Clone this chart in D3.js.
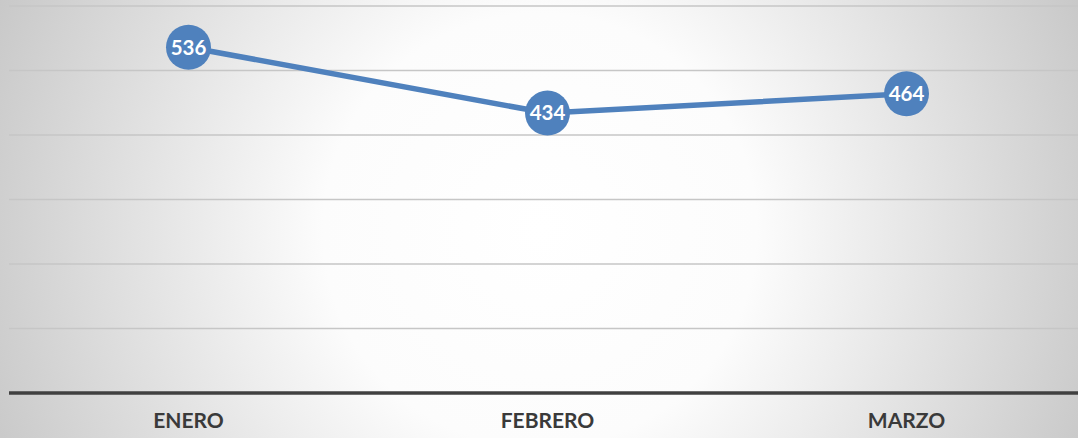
<!DOCTYPE html>
<html>
<head>
<meta charset="utf-8">
<script src="https://cdn.jsdelivr.net/npm/d3@7"></script>
<style>
  body { margin: 0; padding: 0; overflow: hidden; }
  svg { display: block; }
</style>
</head>
<body>
<svg id="canvas"></svg>
<script>
let width = 1078;
let height = 438;

// chart data
let months = ['ENERO', 'FEBRERO', 'MARZO'];
let values = [536, 434, 464];
let gridTicks = [100, 200, 300, 400, 500, 600];

let lineColor = '#4F81BD';

let canvas = d3.select('#canvas')
    .attr('width', width)
    .attr('height', height);

// background: soft radial gradient
let defs = canvas.append('defs');
let grad = defs.append('radialGradient')
    .attr('id', 'bg')
    .attr('gradientUnits', 'userSpaceOnUse')
    .attr('cx', 540).attr('cy', 230).attr('r', 620);
grad.append('stop').attr('offset', '0%').attr('stop-color', '#ffffff');
grad.append('stop').attr('offset', '35%').attr('stop-color', '#fcfcfc');
grad.append('stop').attr('offset', '100%').attr('stop-color', '#c4c4c4');

canvas.append('rect')
    .attr('width', width)
    .attr('height', height)
    .attr('fill', 'url(#bg)');

let xScale = d3.scaleBand()
    .domain(months)
    .range([9, 1086])
    .padding(0);

let yScale = d3.scaleLinear()
    .domain([0, 600])
    .range([393, 6]);

let xPos = (d) => xScale(d) + xScale.bandwidth() / 2;

// gridlines
canvas.append('g')
    .selectAll('line')
    .data(gridTicks)
    .enter()
    .append('line')
    .attr('x1', 9)
    .attr('x2', width)
    .attr('y1', (d) => yScale(d))
    .attr('y2', (d) => yScale(d))
    .attr('stroke', '#c6c6c6')
    .attr('stroke-width', 1.5);

// x axis
let xAxis = d3.axisBottom(xScale).tickSize(0).tickPadding(20);
let axisG = canvas.append('g')
    .attr('transform', `translate(0, ${yScale(0)})`)
    .call(xAxis);
axisG.select('.domain').remove();
axisG.append('line')
    .attr('x1', 9)
    .attr('x2', width)
    .attr('stroke', '#404040')
    .attr('stroke-width', 3.5);
axisG.selectAll('.tick text')
    .attr('font-family', 'Lato, "Open Sans", sans-serif')
    .attr('font-weight', 'bold')
    .attr('font-size', 21)
    .attr('fill', '#3a3a3a');

// the line
let points = months.map((m, i) => ({ month: m, value: values[i] }));

let line = d3.line()
    .x((d) => xPos(d.month))
    .y((d) => yScale(d.value));

canvas.append('path')
    .datum(points)
    .attr('d', line)
    .attr('fill', 'none')
    .attr('stroke', lineColor)
    .attr('stroke-width', 5.5)
    .attr('stroke-linejoin', 'round');

// markers with labels
let markers = canvas.append('g')
    .selectAll('g')
    .data(points)
    .enter()
    .append('g')
    .attr('transform', (d) => `translate(${xPos(d.month)}, ${yScale(d.value)})`);

markers.append('circle')
    .attr('r', 22.5)
    .attr('fill', lineColor);

markers.append('text')
    .text((d) => d.value)
    .attr('text-anchor', 'middle')
    .attr('dy', '0.36em')
    .attr('font-family', 'Lato, "Open Sans", sans-serif')
    .attr('font-weight', 'bold')
    .attr('font-size', 20.5)
    .attr('fill', '#ffffff');
</script>
</body>
</html>
